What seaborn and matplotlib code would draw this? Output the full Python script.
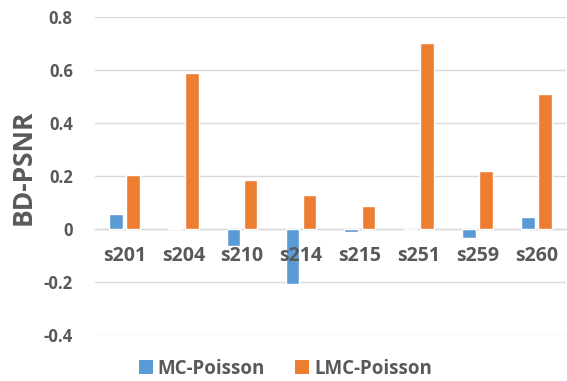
import matplotlib
matplotlib.use("Agg")
import matplotlib.pyplot as plt
from matplotlib.lines import Line2D
import seaborn as sns
import pandas as pd

categories = ["s201", "s204", "s210", "s214", "s215", "s251", "s259", "s260"]
mc_poisson = [0.057, 0.004, -0.064, -0.206, -0.011, 0.0, -0.035, 0.045]
lmc_poisson = [0.204, 0.589, 0.187, 0.127, 0.088, 0.703, 0.220, 0.509]
series_names = ["MC-Poisson", "LMC-Poisson"]
series_colors = ["#5B9BD5", "#ED7D31"]
y_ticks = [-0.4, -0.2, 0, 0.2, 0.4, 0.6, 0.8]
y_tick_labels = ["-0.4", "-0.2", "0", "0.2", "0.4", "0.6", "0.8"]

df = pd.DataFrame({
    "case": categories * 2,
    "series": [series_names[0]] * len(categories) + [series_names[1]] * len(categories),
    "value": mc_poisson + lmc_poisson,
})

sns.set_theme(style="white")
plt.rcParams["font.family"] = ["Open Sans", "DejaVu Sans"]
text_color = "#595959"
grid_color = "#D9D9D9"

fig = plt.figure(figsize=(5.67, 3.81), dpi=100)
ax = fig.add_axes([0.1675, 0.1207, 0.8305, 0.8339])

sns.barplot(data=df, x="case", y="value", hue="series", order=categories,
            hue_order=series_names, palette=series_colors,
            width=0.58, gap=0.2, ax=ax, saturation=1, errorbar=None, legend=False)

ax.set_ylim(-0.4, 0.8)
ax.set_xlim(-0.5, len(categories) - 0.5)
ax.set_yticks(y_ticks)
ax.set_yticklabels(y_tick_labels)
ax.yaxis.grid(True, color=grid_color, linewidth=1)
ax.set_axisbelow(True)
# category labels sit on top of the bars that cross the zero line
ax.xaxis.set_zorder(5)

for side in ["left", "right", "top"]:
    ax.spines[side].set_visible(False)
ax.spines["bottom"].set_position(("data", 0))
ax.spines["bottom"].set_color(grid_color)
ax.spines["bottom"].set_linewidth(1)
ax.spines["bottom"].set_zorder(0.5)

ax.tick_params(axis="x", length=0, pad=12, labelsize=14, labelcolor=text_color)
ax.tick_params(axis="y", length=0, pad=16, labelsize=12, labelcolor=text_color)
for lab in ax.get_xticklabels() + ax.get_yticklabels():
    lab.set_fontweight("bold")

ax.set_xlabel("")
ax.set_ylabel("BD-PSNR", fontsize=19, fontweight="bold", color=text_color)
ax.yaxis.set_label_coords(-0.123, 0.527)

handles = [Line2D([], [], linestyle="none", marker="s", markersize=10,
                  markerfacecolor=c, markeredgewidth=0) for c in series_colors]
leg = fig.legend(handles, series_names, loc="center", bbox_to_anchor=(0.5035, 1 - 369 / 381),
                 ncol=2, frameon=False, handlelength=0.7, handletextpad=0.3,
                 columnspacing=1.6, prop={"size": 13.5, "weight": "bold"})
for t in leg.get_texts():
    t.set_color(text_color)

fig.savefig("out.png", dpi=100)
